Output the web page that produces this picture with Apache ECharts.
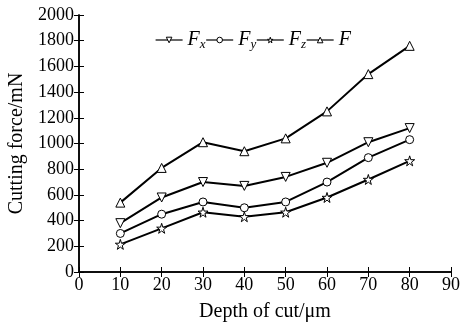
<!DOCTYPE html>
<html>
<head>
<meta charset="utf-8">
<script src="https://cdn.jsdelivr.net/npm/echarts@6/dist/echarts.min.js"></script>
<style>
  html, body { margin: 0; padding: 0; background: #fff; }
  #chart { width: 461px; height: 330px; }
</style>
</head>
<body>
<div id="chart"></div>
<script>
var depth = [10, 20, 30, 40, 50, 60, 70, 80];
var fx = [380, 580, 700, 670, 740, 850, 1010, 1120];
var fy = [300, 450, 545, 500, 545, 700, 890, 1030];
var fz = [215, 340, 465, 430, 465, 580, 720, 865];
var fTotal = [540, 810, 1010, 940, 1040, 1250, 1540, 1760];

var STAR = 'path://M50,0 L61,35 L98,35 L68,57 L79,91 L50,70 L21,91 L32,57 L2,35 L39,35 Z';
var FONT = '"Liberation Serif", "DejaVu Serif", serif';

function pairs(vals) {
  return depth.map(function (d, i) { return [d, vals[i]]; });
}

function makeSeries(name, vals, symbol, size, rotate) {
  return {
    name: name,
    type: 'line',
    data: pairs(vals),
    symbol: symbol,
    symbolSize: size,
    symbolRotate: rotate || 0,
    lineStyle: { color: '#000', width: 2 },
    itemStyle: { color: '#fff', borderColor: '#000', borderWidth: 1 },
    emphasis: { disabled: true },
    z: 3
  };
}

var chart = echarts.init(document.getElementById('chart'));

var tickStyle = { show: true, inside: true, length: 5, lineStyle: { color: '#000', width: 1 } };
var plain = function (v) { return String(v); };

var option = {
  animation: false,
  backgroundColor: '#fff',
  grid: { left: 79, right: 10, top: 15, bottom: 58, outerBoundsMode: 'none' },
  legend: {
    left: 150,
    top: 25,
    itemWidth: 27,
    itemHeight: 7,
    itemGap: 0,
    data: ['Fx', 'Fy', 'Fz', 'F'],
    itemStyle: { borderWidth: 1 },
    lineStyle: { width: 1.2 },
    formatter: function (name) {
      if (name.length > 1) return '{i|F}{s|' + name.charAt(1) + '}';
      return '{i|F}';
    },
    textStyle: {
      rich: {
        i: { fontFamily: FONT, fontStyle: 'italic', fontSize: 20, color: '#000' },
        s: { fontFamily: FONT, fontStyle: 'italic', fontSize: 13, color: '#000', padding: [10, 0, 0, 0] }
      }
    }
  },
  xAxis: [{
    type: 'value',
    min: 0, max: 90, interval: 10,
    name: 'Depth of cut/\u03bcm',
    nameLocation: 'middle',
    nameGap: 30,
    nameTextStyle: { fontFamily: FONT, fontSize: 20, color: '#000' },
    axisLine: { show: true, lineStyle: { color: '#000', width: 1.5 } },
    axisTick: tickStyle,
    axisLabel: { fontFamily: FONT, fontSize: 18, color: '#000', margin: 4, formatter: plain },
    splitLine: { show: false }
  }, {
    type: 'value',
    position: 'top',
    min: 0, max: 90, interval: 10,
    axisLine: { show: true, lineStyle: { color: '#000', width: 1.5 } },
    axisTick: tickStyle,
    axisLabel: { show: false },
    splitLine: { show: false }
  }],
  yAxis: [{
    type: 'value',
    min: 0, max: 2000, interval: 200,
    name: 'Cutting force/mN',
    nameLocation: 'middle',
    nameGap: 51,
    nameTextStyle: { fontFamily: FONT, fontSize: 20, color: '#000' },
    axisLine: { show: true, lineStyle: { color: '#000', width: 1.5 } },
    axisTick: tickStyle,
    axisLabel: { fontFamily: FONT, fontSize: 18, color: '#000', margin: 5, formatter: plain },
    splitLine: { show: false }
  }, {
    type: 'value',
    position: 'right',
    min: 0, max: 2000, interval: 200,
    axisLine: { show: true, lineStyle: { color: '#000', width: 1.5 } },
    axisTick: tickStyle,
    axisLabel: { show: false },
    splitLine: { show: false }
  }],
  series: [
    makeSeries('Fx', fx, 'triangle', 9, 180),
    makeSeries('Fy', fy, 'circle', 8),
    makeSeries('Fz', fz, STAR, 10),
    makeSeries('F', fTotal, 'triangle', 9)
  ]
};

chart.setOption(option);
</script>
</body>
</html>
